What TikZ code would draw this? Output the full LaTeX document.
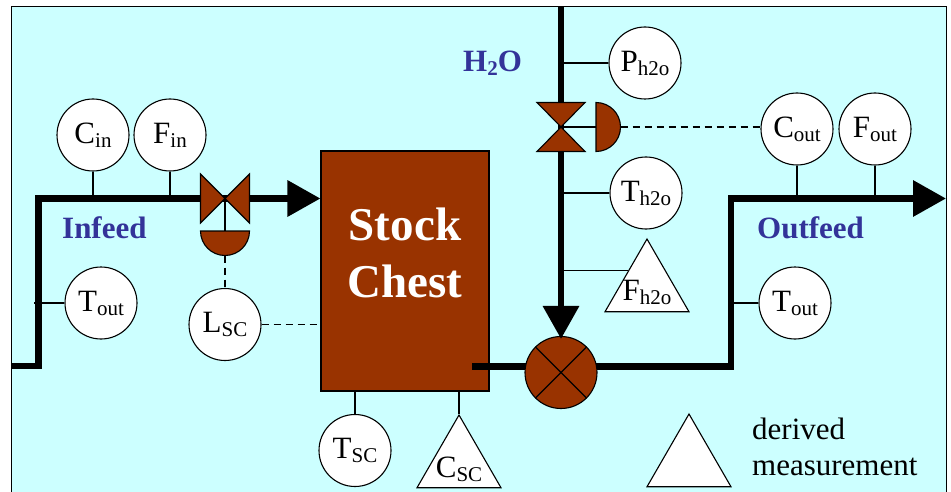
\documentclass[tikz,border=0pt]{standalone}
\usepackage{fontspec}
\setmainfont{Liberation Serif}
\usetikzlibrary{arrows.meta,shapes.geometric,calc}
\definecolor{bgc}{HTML}{CCFFFF}
\definecolor{brn}{HTML}{993300}
\definecolor{lbl}{HTML}{333399}
\newcommand\subtx[1]{\raisebox{-4pt}{\fontsize{21}{24}\selectfont #1}}
\begin{document}
\begin{tikzpicture}[x=1pt,y=-1pt,
  pipe/.style={line width=6.5pt, line join=miter},
  pipearrow/.style={pipe,-{Triangle[length=33pt,width=35pt]}},
  inst/.style={circle,draw,line width=1.1pt,fill=white,minimum size=72pt,inner sep=0pt,font=\fontsize{31}{36}\selectfont},
  deriv/.style={regular polygon,regular polygon sides=3,draw,line width=1.1pt,fill=white,minimum size=97pt,inner sep=0pt},
  trilabel/.style={font=\fontsize{31}{36}\selectfont,inner sep=0pt},
  stem/.style={line width=1.1pt},
  signal/.style={line width=1.4pt,dash pattern=on 7pt off 5pt},
  valvepart/.style={draw,line width=1.1pt,fill=brn,line join=miter},
  flowlabel/.style={font=\fontsize{31}{36}\selectfont\bfseries,text=lbl,inner sep=0pt,anchor=base west},
  legtext/.style={font=\fontsize{31}{36}\selectfont,inner sep=0pt,anchor=base west}
]
\useasboundingbox (0,0) rectangle (951,492);
\fill[white] (0,0) rectangle (951,492);
\draw[fill=bgc, line width=1pt] (11,7) rectangle (946,500);

% stock chest
\node[draw, fill=brn, line width=1.1pt, minimum width=168pt, minimum height=240pt, inner sep=0pt] (chest) at (405,271) {};
\node[font=\fontsize{47}{57}\selectfont\bfseries, text=white, align=center, inner sep=0pt] (chestlbl) at (405,253) {Stock\\Chest};

% infeed pipe
\coordinate (inA) at (11,366);
\coordinate (inB) at (38.5,366);
\coordinate (inC) at (38.5,198.5);
\draw[pipearrow] (inA) -- (inB) -- (inC) -- (inC -| chest.west);

% outlet / outfeed pipe
\coordinate (outA) at (472,366.5);
\coordinate (outB) at (731,366.5);
\coordinate (outC) at (731,198.5);
\coordinate (outD) at (946,198.5);
\draw[pipearrow] (outA) -- (outB) -- (outC) -- (outD);

% mixer
\node[circle, draw, fill=brn, line width=1.1pt, minimum size=72pt, inner sep=0pt] (mixer) at (561,372.5) {};
\draw[line width=1.1pt] (mixer.45) -- (mixer.225) (mixer.135) -- (mixer.315);

% water pipe
\coordinate (wtop) at (561,7);
\draw[pipearrow] (wtop) -- ([yshift=-3pt]mixer.north);

% infeed valve
\coordinate (vin) at (225,198.5);
\draw[valvepart] ($(vin)+(-24.5,-24.5)$) -- ($(vin)+(-24.5,24.5)$) -- (vin) -- cycle;
\draw[valvepart] ($(vin)+(24.5,-24.5)$) -- ($(vin)+(24.5,24.5)$) -- (vin) -- cycle;
\coordinate (ain) at (225,231);
\draw[stem] (vin) -- (ain);
\draw[valvepart] ($(ain)+(24.5,0)$) arc (0:180:24.5) -- cycle;

% water valve
\coordinate (vw) at (561,127);
\draw[valvepart] ($(vw)+(-24,-24.5)$) -- ($(vw)+(24,-24.5)$) -- (vw) -- cycle;
\draw[valvepart] ($(vw)+(-24,24.5)$) -- ($(vw)+(24,24.5)$) -- (vw) -- cycle;
\coordinate (aw) at (596,127);
\draw[stem] (vw) -- (aw);
\draw[valvepart] ($(aw)+(0,-24.5)$) arc (-90:90:24.5) -- cycle;

% instruments
\node[inst] (cin) at (93,135) {C\subtx{in}};
\node[inst] (fin) at (170,135) {F\subtx{in}};
\node[inst] (toutl) at (101,303) {T\subtx{out}};
\node[inst] (lsc) at (225,324.5) {L\subtx{SC}};
\node[inst] (tsc) at (355,450.5) {T\subtx{SC}};
\node[inst] (ph2o) at (645,63) {P\subtx{h2o}};
\node[inst] (th2o) at (646,193) {T\subtx{h2o}};
\node[inst] (cout) at (797,129) {C\subtx{out}};
\node[inst] (fout) at (875,129) {F\subtx{out}};
\node[inst] (toutr) at (795,303) {T\subtx{out}};

% derived measurements
\node[deriv] (fh2o) at (647,287.5) {};
\node[trilabel] (fh2olbl) at ([yshift=-5pt]fh2o.center) {F\subtx{h2o}};
\node[deriv] (csc) at (459,463.5) {};
\node[trilabel] (csclbl) at ([yshift=-6pt]csc.center) {C\subtx{SC}};
\node[deriv] (legtri) at (689,462.5) {};
\node[legtext] (legd) at (752,439) {derived};
\node[legtext] (legm) at (752,475) {measurement};

% stems
\coordinate (toutlp) at (34,303);
\coordinate (fh2oin) at ($(fh2o.corner 1)!0.44!(fh2o.corner 2)$);
\draw[stem] (cin.south) -- (cin.south |- inC);
\draw[stem] (fin.south) -- (fin.south |- inC);
\draw[stem] (toutlp) -- (toutl.west);
\draw[stem] (tsc.north) -- (tsc.north |- chest.south);
\draw[stem] (csc.corner 1) -- (csc.corner 1 |- chest.south);
\draw[stem] (wtop |- ph2o.west) -- (ph2o.west);
\draw[stem] (wtop |- th2o.west) -- (th2o.west);
\draw[stem] (wtop |- fh2oin) -- (fh2oin);
\draw[stem] (cout.south) -- (cout.south |- outC);
\draw[stem] (fout.south) -- (fout.south |- outC);
\draw[stem] (toutr.west) -- (toutr.west -| outC);

% signal lines
\draw[signal] ($(ain)+(0,24.5)$) -- (lsc.north);
\draw[signal] (lsc.east) -- (lsc.east -| chest.west);
\draw[signal] ($(aw)+(24.5,0)$) -- (aw -| cout.west);

% flow labels
\node[flowlabel] (infeed) at (62,238) {Infeed};
\node[flowlabel] (outfeed) at (757,238) {Outfeed};
\node[flowlabel] (h2o) at (463,72) {H\subtx{2}O};
\end{tikzpicture}
\end{document}
